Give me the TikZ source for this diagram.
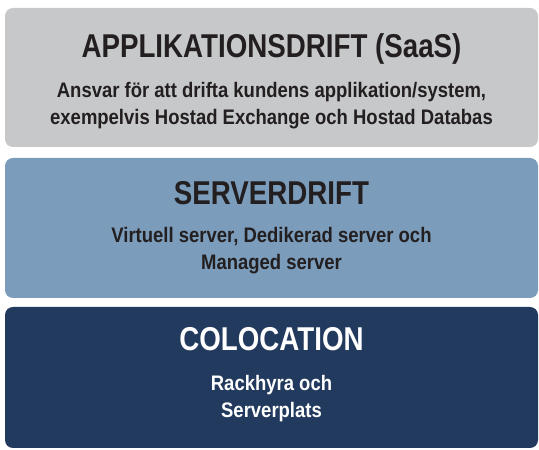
\documentclass[tikz,border=0pt]{standalone}
\usepackage{fontspec}
\usepackage{tikz}
\usetikzlibrary{positioning}
\newfontfamily\narrowsans{Liberation Sans}[FakeStretch=0.84]
\newfontfamily\narrowtext{Liberation Sans}[FakeStretch=0.88]
\definecolor{saasgray}{RGB}{198,200,202}
\definecolor{serverblue}{RGB}{123,156,186}
\definecolor{colonavy}{RGB}{35,58,95}
\definecolor{inkdark}{RGB}{35,31,32}

\begin{document}
\begin{tikzpicture}[
  x=1pt, y=1pt,
  layer/.style={rounded corners=8pt, minimum width=533pt, inner sep=0pt},
  layertitle/.style={anchor=base, inner sep=0pt, font=\narrowsans\bfseries\fontsize{33}{36}\selectfont},
  layertext/.style={anchor=base, inner sep=0pt, align=center, font=\narrowtext\bfseries\fontsize{21}{27}\selectfont}
]
\useasboundingbox (0,0) rectangle (539,450);
% three service layers, top to bottom
\node[layer, fill=saasgray, minimum height=139pt] (saas) at (271.5,372.5) {};
\node[layer, fill=serverblue, minimum height=140pt] (server) at (271.5,222) {};
\node[layer, fill=colonavy, minimum height=141pt] (coloc) at (271.5,72.5) {};

% base of a two-line text is its last line
\node[layertitle, text=inkdark] (saastitle) at ([yshift=-50pt]saas.north) {APPLIKATIONSDRIFT (SaaS)};
\node[layertext, text=inkdark] (saastext) at ([yshift=-67pt]saastitle.base) {Ansvar för att drifta kundens applikation/system,\\exempelvis Hostad Exchange och Hostad Databas};

\node[layertitle, text=inkdark] (servertitle) at ([yshift=-47pt]server.north) {SERVERDRIFT};
\node[layertext, text=inkdark] (servertext) at ([yshift=-65pt]servertitle.base) {Virtuell server, Dedikerad server och\\Managed server};

\node[layertitle, text=white] (coloctitle) at ([yshift=-44pt]coloc.north) {COLOCATION};
\node[layertext, text=white] (coloctext) at ([yshift=-67pt]coloctitle.base) {Rackhyra och\\Serverplats};
\end{tikzpicture}
\end{document}
